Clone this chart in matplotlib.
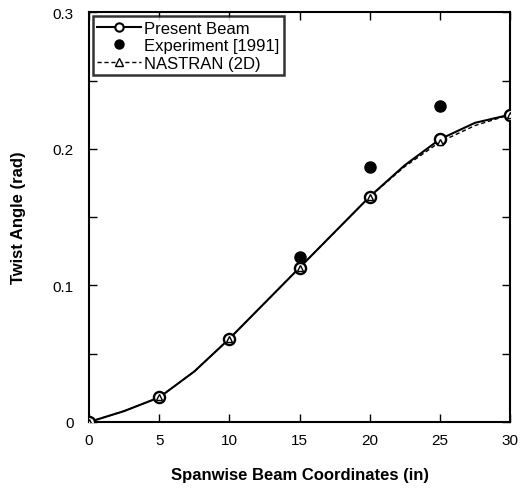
import matplotlib
matplotlib.use("Agg")
import matplotlib.pyplot as plt
from matplotlib.ticker import MultipleLocator

plt.rcParams['font.family'] = ['Liberation Sans', 'DejaVu Sans']

# Curve readings (Present Beam line)
curve_x = [0, 2.5, 5, 7.5, 10, 12.5, 15, 17.5, 20, 22.5, 25, 27.5, 30]
beam_curve = [0.0, 0.008, 0.018, 0.037, 0.061, 0.087, 0.113, 0.139, 0.165, 0.188, 0.207, 0.219, 0.225]
nastran_curve = [0.0, 0.008, 0.018, 0.037, 0.061, 0.087, 0.113, 0.139, 0.165, 0.187, 0.205, 0.217, 0.225]

# Marker points
station_x = [0, 5, 10, 15, 20, 25, 30]
beam_pts = [0.0, 0.018, 0.061, 0.113, 0.165, 0.207, 0.225]
nastran_pts = [0.0, 0.018, 0.061, 0.113, 0.165, 0.205, 0.225]

exp_x = [15, 20, 25]
exp_y = [0.121, 0.187, 0.231]

fig = plt.figure(figsize=(5.21, 4.89), dpi=100)
ax = fig.add_axes([0.171, 0.135, 0.808, 0.838])

# lines
ax.plot(curve_x, beam_curve, color='black', lw=1.5, zorder=3)
ax.plot(curve_x, nastran_curve, color='black', lw=1.0, ls=(0, (3, 2)), zorder=3)
ax.plot(station_x, beam_pts, ls='none', marker='o', ms=8, mfc='white', mec='black', mew=1.7, zorder=4)
ax.plot(station_x, nastran_pts, ls='none', marker='^', ms=4.5, mfc='white', mec='black', mew=1.0, zorder=5)
ax.plot(exp_x, exp_y, ls='none', marker='o', ms=8, color='black', zorder=5)

# legend proxies
h1, = ax.plot([], [], color='black', lw=1.5, marker='o', ms=6, mfc='white', mec='black', mew=1.5)
h2, = ax.plot([], [], ls='none', marker='o', ms=6.5, color='black')
h3, = ax.plot([], [], color='black', lw=1.0, ls=(0, (3, 2)), marker='^', ms=5.5, mfc='white', mec='black')
leg = ax.legend([h1, h2, h3], ['Present Beam', 'Experiment [1991]', 'NASTRAN (2D)'],
                loc='upper left', bbox_to_anchor=(0.0, 1.0), fontsize=12, frameon=True,
                fancybox=False, edgecolor='black', handlelength=2.6, handletextpad=0.2,
                borderpad=0.25, labelspacing=0.15, borderaxespad=0.25)
leg.get_frame().set_linewidth(1.8)

ax.set_xlim(0, 30)
ax.set_ylim(0, 0.3)
ax.yaxis.set_minor_locator(MultipleLocator(0.05))
ax.set_yticks([0, 0.1, 0.2, 0.3])
ax.set_yticklabels(['0', '0.1', '0.2', '0.3'])
ax.set_xticks([0, 5, 10, 15, 20, 25, 30])
ax.set_xticklabels(['0', '5', '10', '15', '20', '25', '30'])
ax.tick_params(which='both', direction='in', top=True, right=True, labelsize=11, width=1.0)
ax.tick_params(axis='x', pad=8)
ax.tick_params(axis='y', pad=11)
ax.tick_params(which='major', length=6)
ax.tick_params(which='minor', length=6)
for s in ax.spines.values():
    s.set_linewidth(1.5)

ax.set_xlabel('Spanwise Beam Coordinates (in)', fontsize=12, fontweight='bold', labelpad=14)
ax.set_ylabel('Twist Angle (rad)', fontsize=12, fontweight='bold', labelpad=19)

fig.savefig('out.png', dpi=100)
